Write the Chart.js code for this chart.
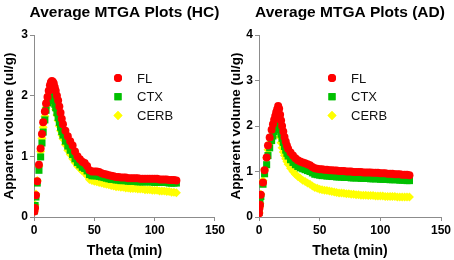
<!DOCTYPE html>
<html>
<head>
<meta charset="utf-8">
<script src="https://cdn.jsdelivr.net/npm/chart.js@4.4.0/dist/chart.umd.min.js"></script>
<style>
    body { margin: 0; background: #fff; }
    #wrap { display: flex; width: 454px; height: 260px; }
    .box { width: 227px; height: 260px; }
</style>
</head>
<body>
<div id="wrap">
    <div class="box"><canvas id="hcChart" width="227" height="260"></canvas></div>
    <div class="box"><canvas id="adChart" width="227" height="260"></canvas></div>
</div>
<script>
// theta (min) sampled for the HC group
const thetaHC = [0.3, 0.9, 1.6, 2.7, 4.1, 5.5, 6.6, 7.6, 9, 10, 11.2, 12.2, 13.2, 14, 14.8, 15.6, 16.4, 17.2, 18, 19,
    20, 21, 22, 23, 24, 26, 28, 30, 32, 34, 36, 38, 40, 42, 44, 46, 48, 50, 52, 54, 56, 58, 60, 62, 64, 66, 68, 70,
    72, 74, 76, 78, 80, 82, 84, 86, 88, 90, 92, 94, 96, 98, 100, 102, 104, 106, 108, 110, 112, 114, 116, 118];
const flHC = [0.09, 0.15, 0.36, 0.59, 0.86, 1.13, 1.37, 1.56, 1.74, 1.87, 1.98, 2.08, 2.17, 2.22, 2.24, 2.23, 2.2, 2.14, 2.08, 2.0,
    1.92, 1.82, 1.72, 1.62, 1.53, 1.42, 1.33, 1.25, 1.18, 1.08, 1.0, 0.95, 0.91, 0.89, 0.84, 0.77, 0.75, 0.75, 0.75, 0.74,
    0.72, 0.71, 0.70, 0.69, 0.68, 0.67, 0.66, 0.66, 0.65, 0.65, 0.65, 0.64, 0.64, 0.64, 0.64, 0.64, 0.63, 0.63, 0.63, 0.63,
    0.63, 0.63, 0.63, 0.63, 0.62, 0.62, 0.62, 0.62, 0.61, 0.61, 0.61, 0.60];
const ctxHC = [0.10, 0.19, 0.33, 0.56, 0.77, 0.99, 1.22, 1.40, 1.60, 1.76, 1.88, 1.95, 1.99, 2.01, 2.0, 1.97, 1.92, 1.86, 1.80, 1.72,
    1.64, 1.56, 1.48, 1.41, 1.35, 1.25, 1.17, 1.10, 1.03, 0.96, 0.90, 0.86, 0.82, 0.80, 0.76, 0.70, 0.68, 0.68, 0.68, 0.67,
    0.66, 0.65, 0.64, 0.63, 0.62, 0.62, 0.61, 0.61, 0.60, 0.60, 0.60, 0.59, 0.59, 0.59, 0.59, 0.58, 0.58, 0.58, 0.58, 0.58,
    0.58, 0.58, 0.57, 0.57, 0.57, 0.57, 0.57, 0.57, 0.56, 0.56, 0.56, 0.56];
const cerbHC = [0.10, 0.20, 0.38, 0.60, 0.84, 1.08, 1.30, 1.48, 1.66, 1.80, 1.92, 2.02, 2.08, 2.10, 2.07, 2.01, 1.93, 1.85, 1.77, 1.68,
    1.59, 1.50, 1.42, 1.35, 1.29, 1.19, 1.10, 1.03, 0.96, 0.90, 0.84, 0.80, 0.76, 0.73, 0.68, 0.62, 0.60, 0.59, 0.58, 0.57,
    0.56, 0.55, 0.54, 0.53, 0.52, 0.51, 0.50, 0.50, 0.49, 0.49, 0.48, 0.48, 0.47, 0.47, 0.47, 0.46, 0.46, 0.46, 0.45, 0.45,
    0.45, 0.44, 0.44, 0.44, 0.43, 0.43, 0.43, 0.42, 0.42, 0.41, 0.41, 0.40];

// theta (min) sampled for the AD group
const thetaAD = [0.1, 0.4, 0.8, 1.5, 3.3, 4.6, 6.3, 7.4, 8.8, 10.4, 11.5, 12.5, 13.4, 14.2, 15, 15.8, 16.6, 17.4, 18.2, 19,
    20, 21, 22, 23, 24, 26, 28, 30, 32, 34, 36, 38, 40, 42, 44, 46, 48, 50, 52, 54, 56, 58, 60, 62, 64, 66, 68, 70,
    72, 74, 76, 78, 80, 82, 84, 86, 88, 90, 92, 94, 96, 98, 100, 102, 104, 106, 108, 110, 112, 114, 116, 118, 120, 122, 124];
const flAD = [0.08, 0.2, 0.27, 0.49, 0.76, 1.03, 1.31, 1.57, 1.75, 1.92, 2.04, 2.14, 2.22, 2.30, 2.37, 2.44, 2.38, 2.25, 2.12, 2.0,
    1.88, 1.76, 1.66, 1.57, 1.50, 1.42, 1.35, 1.29, 1.25, 1.22, 1.20, 1.18, 1.16, 1.14, 1.10, 1.07, 1.06, 1.05, 1.05, 1.04,
    1.04, 1.03, 1.03, 1.02, 1.02, 1.01, 1.01, 1.01, 1.00, 1.00, 1.00, 0.99, 0.99, 0.99, 0.99, 0.98, 0.98, 0.98, 0.98, 0.97,
    0.97, 0.97, 0.96, 0.96, 0.96, 0.95, 0.95, 0.95, 0.94, 0.94, 0.94, 0.93, 0.93, 0.93, 0.92];
const ctxAD = [0.10, 0.23, 0.30, 0.45, 0.72, 0.95, 1.15, 1.35, 1.52, 1.68, 1.78, 1.88, 1.96, 2.03, 2.08, 2.10, 2.02, 1.92, 1.82, 1.73,
    1.64, 1.55, 1.47, 1.40, 1.34, 1.26, 1.20, 1.15, 1.11, 1.08, 1.06, 1.04, 1.02, 1.00, 0.97, 0.94, 0.93, 0.92, 0.91, 0.91,
    0.90, 0.90, 0.89, 0.89, 0.88, 0.88, 0.88, 0.87, 0.87, 0.87, 0.86, 0.86, 0.86, 0.86, 0.85, 0.85, 0.85, 0.85, 0.84, 0.84,
    0.84, 0.84, 0.83, 0.83, 0.83, 0.83, 0.82, 0.82, 0.82, 0.82, 0.81, 0.81, 0.81, 0.80, 0.80];
const cerbAD = [0.10, 0.22, 0.30, 0.50, 0.80, 1.05, 1.30, 1.48, 1.62, 1.76, 1.85, 1.93, 2.00, 2.04, 2.06, 2.02, 1.90, 1.76, 1.63, 1.52,
    1.43, 1.35, 1.28, 1.22, 1.16, 1.07, 1.00, 0.94, 0.89, 0.85, 0.81, 0.78, 0.75, 0.72, 0.68, 0.65, 0.63, 0.61, 0.60, 0.59,
    0.58, 0.57, 0.56, 0.55, 0.54, 0.53, 0.53, 0.52, 0.51, 0.51, 0.50, 0.50, 0.49, 0.49, 0.48, 0.48, 0.48, 0.47, 0.47, 0.47,
    0.46, 0.46, 0.46, 0.46, 0.45, 0.45, 0.45, 0.45, 0.45, 0.44, 0.44, 0.44, 0.44, 0.44, 0.44];

const regionNames = ['FL', 'CTX', 'CERB'];
const xMax = 150;

const FONT = 'Arial, "Liberation Sans", Helvetica, sans-serif';
const AXIS_GREY = '#8c8c8c';

const seriesStyles = [
    { color: '#ff0000', pointStyle: 'circle', radius: 4 },
    { color: '#00c000', pointStyle: 'rect', radius: 5 },
    { color: '#ffff00', pointStyle: 'rectRot', radius: 4.5 },
];

function toPoints(theta, values) {
    return theta.map((t, i) => ({ x: t, y: values[i] }));
}

// title centred over the plot area and the legend sitting inside it
const overlayPlugin = {
    id: 'overlay',
    afterDraw(chart, args, opts) {
        const ctx = chart.ctx;
        const area = chart.chartArea;
        ctx.save();
        ctx.fillStyle = '#000';
        ctx.font = 'bold 15.5px ' + FONT;
        ctx.textAlign = 'center';
        ctx.textBaseline = 'middle';
        ctx.fillText(opts.title, (area.left + area.right) / 2, 12.5);

        ctx.font = '13px ' + FONT;
        ctx.textAlign = 'left';
        chart.data.datasets.forEach((ds, i) => {
            const mx = area.left + opts.legendX;
            const my = area.top + 43 + i * 18.7;
            ctx.fillStyle = ds.backgroundColor;
            Chart.helpers.drawPoint(ctx, { pointStyle: ds.pointStyle, radius: ds.pointRadius, rotation: 0, borderWidth: 0 }, mx, my);
            ctx.fill();
            ctx.fillStyle = '#111';
            ctx.fillText(ds.label, mx + 19, my + 1);
        });
        ctx.restore();
    }
};

function makeChart(canvasId, title, theta, series, yMax, legendX, leftWidth, rightPad) {
    const datasets = series.map((vals, i) => ({
        label: regionNames[i],
        data: toPoints(theta, vals),
        backgroundColor: seriesStyles[i].color,
        borderColor: seriesStyles[i].color,
        borderWidth: 0,
        pointStyle: seriesStyles[i].pointStyle,
        pointRadius: seriesStyles[i].radius,
    }));

    return new Chart(document.getElementById(canvasId).getContext('2d'), {
        type: 'scatter',
        data: { datasets: datasets },
        plugins: [overlayPlugin],
        options: {
            responsive: false,
            animation: false,
            devicePixelRatio: 1,
            layout: { padding: { left: 0, right: rightPad, top: 35, bottom: 0 } },
            scales: {
                x: {
                    min: 0,
                    max: xMax,
                    afterFit: function(scale) { scale.height = 43; },
                    border: { display: true, color: AXIS_GREY, width: 1 },
                    grid: { display: true, drawOnChartArea: false, drawTicks: true, tickLength: 4, color: AXIS_GREY },
                    ticks: { stepSize: 50, padding: 2, color: '#000', font: { family: FONT, size: 12, weight: 'bold' } },
                    title: {
                        display: true,
                        text: 'Theta (min)',
                        color: '#000',
                        padding: { top: 0, bottom: 0 },
                        font: { family: FONT, size: 14, weight: 'bold' }
                    }
                },
                y: {
                    min: 0,
                    max: yMax,
                    afterFit: function(scale) { scale.width = leftWidth; },
                    border: { display: true, color: AXIS_GREY, width: 1 },
                    grid: { display: true, drawOnChartArea: false, drawTicks: true, tickLength: 4, color: AXIS_GREY },
                    ticks: { stepSize: 1, padding: 2, color: '#000', font: { family: FONT, size: 12, weight: 'bold' } },
                    title: {
                        display: true,
                        text: 'Apparent volume (ul/g)',
                        color: '#000',
                        padding: { top: 1, bottom: 0 },
                        font: { family: FONT, size: 13.5, weight: 'bold' }
                    }
                }
            },
            plugins: {
                legend: { display: false },
                tooltip: { enabled: false },
                overlay: { title: title, legendX: legendX }
            }
        }
    });
}

makeChart('hcChart', 'Average MTGA Plots (HC)', thetaHC, [flHC, ctxHC, cerbHC], 3, 84, 34, 10);
makeChart('adChart', 'Average MTGA Plots (AD)', thetaAD, [flAD, ctxAD, cerbAD], 4, 73, 32, 13);
</script>
</body>
</html>
